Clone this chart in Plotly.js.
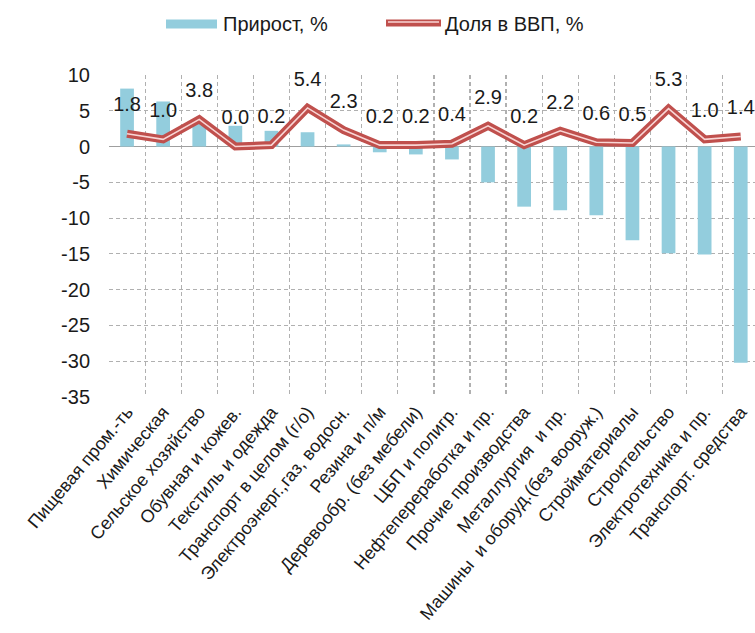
<!DOCTYPE html>
<html>
<head>
<meta charset="utf-8">
<script src="https://cdn.plot.ly/plotly-3.0.1.min.js"></script>
<style>html,body{margin:0;padding:0;background:#fff;}#chart{width:755px;height:633px;}</style>
</head>
<body>
<div id="chart"></div>
<script>
const categories = [
  "Пищевая пром.-ть",
  "Химическая",
  "Сельское хозяйство",
  "Обувная и кожев.",
  "Текстиль и одежда",
  "Транспорт в целом (г/о)",
  "Электроэнерг.,газ, водосн.",
  "Резина и п/м",
  "Деревообр. (без мебели)",
  "ЦБП и полигр.",
  "Нефтепереработка и пр.",
  "Прочие производства",
  "Металлургия  и пр.",
  "Машины  и оборуд.(без вооруж.)",
  "Стройматериалы",
  "Строительство",
  "Электротехника и пр.",
  "Транспорт. средства"
];
const growth = [8.1, 6.3, 3.7, 2.9, 2.2, 2.0, 0.3, -0.8, -1.1, -1.8, -5.0, -8.4, -8.9, -9.6, -13.1, -14.9, -15.1, -30.2];
const gdpShare = [1.8, 1.0, 3.8, 0.0, 0.2, 5.4, 2.3, 0.2, 0.2, 0.4, 2.9, 0.2, 2.2, 0.6, 0.5, 5.3, 1.0, 1.4];
const seriesNames = ["Прирост, %", "Доля в ВВП, %"];
const yTicks = [10, 5, 0, -5, -10, -15, -20, -25, -30, -35];

const FONT = "'Liberation Sans', Arial, sans-serif";
const TXT = "#1a1a1a";
const BAR = "#93cddd";
const LINE = "#c0504d";
const GRID = "#b0b0b0";

// pixel -> paper helpers for legend decoration
const L = 109, T = 75, PW = 646, PH = 322;
const px = v => (v - L) / PW;
const py = v => (T + PH - v) / PH;

const traces = [
  {
    type: "bar", x: categories, y: growth, name: seriesNames[0],
    marker: {color: BAR}, width: 0.38, showlegend: false, hoverinfo: "x+y"
  },
  {
    type: "scatter", mode: "lines", x: categories, y: gdpShare, name: seriesNames[1],
    line: {color: LINE, width: 8}, showlegend: false
  },
  {
    type: "scatter", mode: "lines", x: categories, y: gdpShare, name: seriesNames[1],
    line: {color: "rgba(255,228,228,0.9)", width: 1.6}, showlegend: false, hoverinfo: "skip"
  },
  {
    type: "scatter", mode: "markers+text", x: categories, y: gdpShare,
    text: gdpShare.map(v => v.toFixed(1)), textposition: "top center",
    textfont: {family: FONT, size: 20, color: TXT}, cliponaxis: false,
    marker: {size: 26, color: "rgba(0,0,0,0)"}, showlegend: false, hoverinfo: "skip"
  }
];

const layout = {
  width: 755, height: 633,
  margin: {l: L, r: 0, t: T, b: 633 - T - PH},
  paper_bgcolor: "#ffffff",
  plot_bgcolor: "#ffffff",
  font: {family: FONT, color: TXT},
  showlegend: false,
  bargap: 0.6,
  xaxis: {
    type: "category",
    range: [-0.5, 17.395],
    tickson: "boundaries",
    showgrid: true, gridcolor: GRID, gridwidth: 1.2, griddash: "4px,3px",
    tickangle: -50,
    ticks: "outside", ticklen: 28, tickcolor: "rgba(0,0,0,0)",
    tickfont: {family: FONT, size: 18, color: TXT},
    showline: false, zeroline: false, fixedrange: true
  },
  yaxis: {
    range: [-35, 10],
    tickvals: yTicks,
    ticktext: yTicks.map(String),
    showgrid: true, gridcolor: GRID, gridwidth: 1.2, griddash: "4px,3px",
    zeroline: true, zerolinecolor: "#9f9f9f", zerolinewidth: 1.5,
    ticks: "outside", ticklen: 14, tickcolor: "rgba(0,0,0,0)",
    tickfont: {family: FONT, size: 20, color: TXT},
    showline: false, fixedrange: true
  },
  shapes: [
    {type: "rect", xref: "paper", yref: "paper", x0: px(166), x1: px(217), y0: py(28.5), y1: py(19.5),
     fillcolor: BAR, line: {width: 0}},
    {type: "line", xref: "paper", yref: "paper", x0: px(386), x1: px(441), y0: py(23), y1: py(23),
     line: {color: LINE, width: 7}},
    {type: "line", xref: "paper", yref: "paper", x0: px(388), x1: px(439), y0: py(22), y1: py(22),
     line: {color: "rgba(255,228,228,0.9)", width: 1.5}}
  ],
  annotations: [
    {xref: "paper", yref: "paper", x: px(221), y: py(24), xanchor: "left", yanchor: "middle",
     text: seriesNames[0], showarrow: false, font: {family: FONT, size: 20, color: TXT}},
    {xref: "paper", yref: "paper", x: px(443), y: py(24), xanchor: "left", yanchor: "middle",
     text: seriesNames[1], showarrow: false, font: {family: FONT, size: 20, color: TXT}}
  ]
};

Plotly.newPlot("chart", traces, layout, {displayModeBar: false, staticPlot: true});
</script>
</body>
</html>
